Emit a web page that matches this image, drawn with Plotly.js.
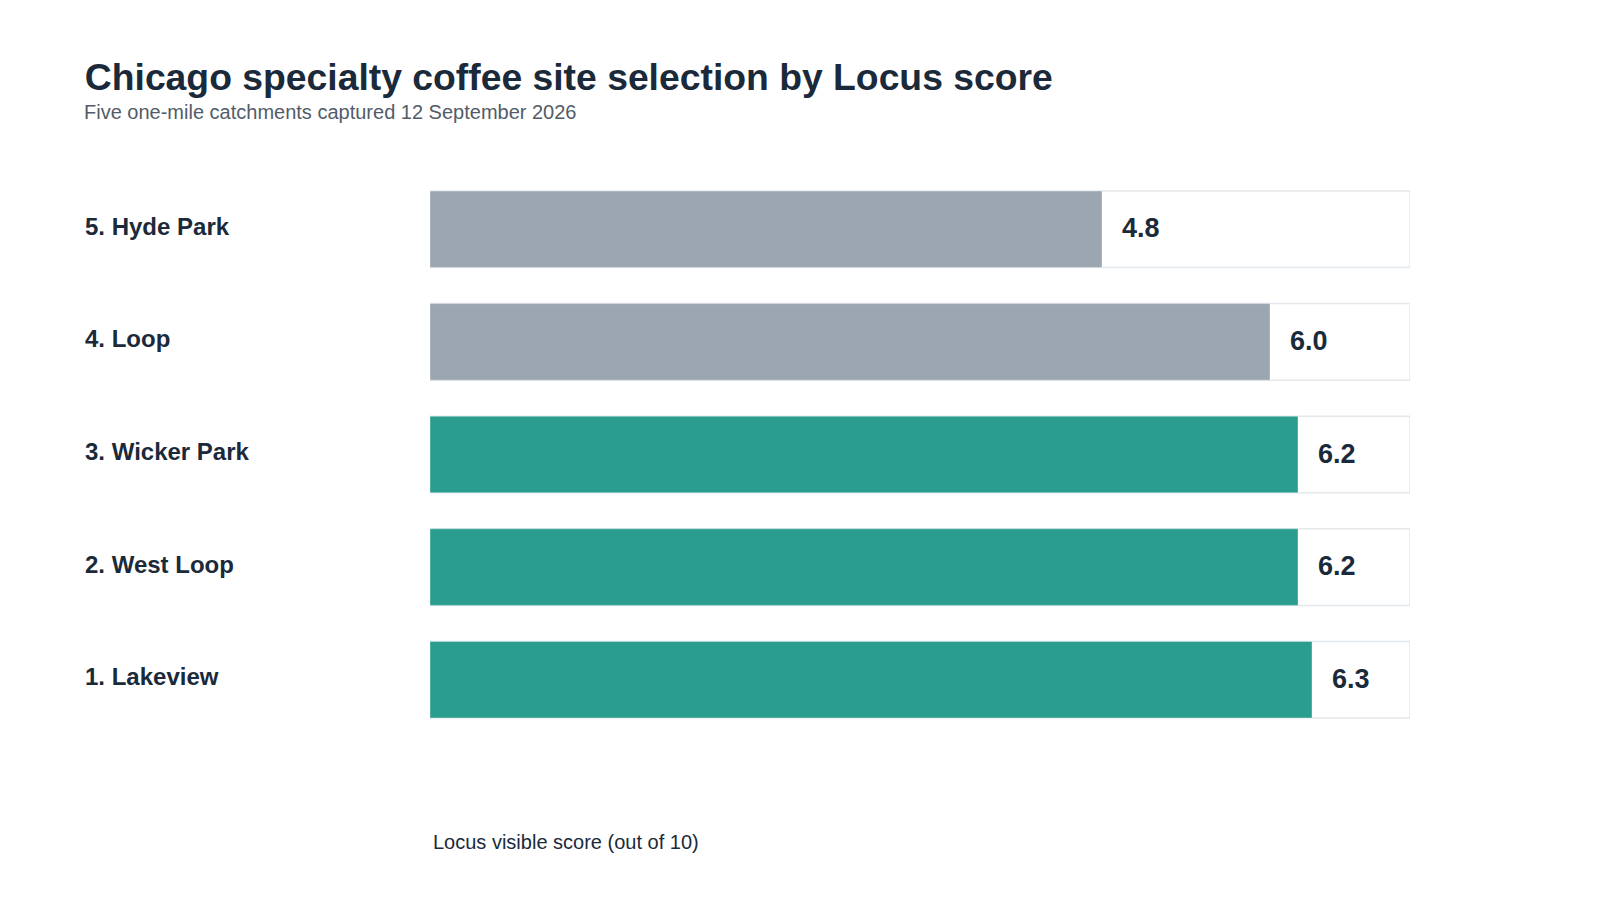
<!DOCTYPE html>
<html>
<head>
<meta charset="utf-8">
<script src="https://cdn.plot.ly/plotly-3.0.1.min.js"></script>
<style>
  html, body { margin: 0; padding: 0; background: #fff; }
  #chart { width: 1600px; height: 900px; }
</style>
</head>
<body>
<div id="chart"></div>
<script>
// site ranking, bottom to top as plotly draws categories
var sites = ['1. Lakeview', '2. West Loop', '3. Wicker Park', '4. Loop', '5. Hyde Park'];
var ranks = [1, 2, 3, 4, 5];
var scores = [6.3, 6.2, 6.2, 6.0, 4.8];
var trackMax = 7; // right end of the grey track

var teal = '#2a9d8f';
var grey = '#9ba6b1';
var ink = '#1b2a3a';
var font = 'Arial, "Liberation Sans", sans-serif';

var colors = ranks.map(function (r) { return r <= 3 ? teal : grey; });

// white tracks behind the bars
var track = {
  type: 'bar',
  orientation: 'h',
  y: sites,
  x: sites.map(function () { return trackMax; }),
  marker: { color: '#ffffff', line: { color: '#e3e8ec', width: 1.5 } },
  hoverinfo: 'skip'
};

var bars = {
  type: 'bar',
  orientation: 'h',
  y: sites,
  x: scores,
  marker: { color: colors, line: { color: 'rgba(255,255,255,0.35)', width: 1 } },
  hovertemplate: '%{y}: %{x:.1f}<extra></extra>'
};

var annotations = [];
sites.forEach(function (s, i) {
  // category label, left aligned
  annotations.push({
    xref: 'paper', yref: 'y', x: -0.354, y: s, yshift: 3,
    xanchor: 'left', yanchor: 'middle',
    text: '<b>' + s + '</b>', showarrow: false,
    font: { family: font, size: 24, color: ink }
  });
  // score after bar end
  annotations.push({
    xref: 'x', yref: 'y', x: scores[i], y: s, yshift: 1,
    xanchor: 'left', yanchor: 'middle', xshift: 18,
    text: '<b>' + scores[i].toFixed(1) + '</b>', showarrow: false,
    font: { family: font, size: 27, color: ink }
  });
});

// subtitle under the title
annotations.push({
  xref: 'paper', yref: 'paper', x: -0.355, y: 1.108,
  xanchor: 'left', yanchor: 'middle',
  text: 'Five one-mile catchments captured 12 September 2026', showarrow: false,
  font: { family: font, size: 20, color: '#525c68' }
});

// axis caption, left aligned under the plot
annotations.push({
  xref: 'paper', yref: 'paper', x: 0.001, y: -0.188,
  xanchor: 'left', yanchor: 'middle',
  text: 'Locus visible score (out of 10)', showarrow: false,
  font: { family: font, size: 20, color: ink }
});

var layout = {
  width: 1600,
  height: 900,
  barmode: 'overlay',
  bargap: 0.32,
  showlegend: false,
  paper_bgcolor: '#ffffff',
  plot_bgcolor: '#ffffff',
  font: { family: font, color: ink },
  title: {
    text: '<b>Chicago specialty coffee site selection by Locus score</b>',
    font: { family: font, size: 37.3, color: ink },
    xref: 'container', x: 0.053, xanchor: 'left',
    yref: 'container', y: 0.929, yanchor: 'top'
  },
  margin: { l: 430, r: 190, t: 173, b: 164 },
  xaxis: {
    range: [0, trackMax],
    showgrid: false, zeroline: false, showticklabels: false, showline: false, ticks: ''
  },
  yaxis: {
    showgrid: false, zeroline: false, showticklabels: false, showline: false, ticks: ''
  },
  annotations: annotations
};

Plotly.newPlot('chart', [track, bars], layout, { displayModeBar: false, staticPlot: true });
</script>
</body>
</html>
